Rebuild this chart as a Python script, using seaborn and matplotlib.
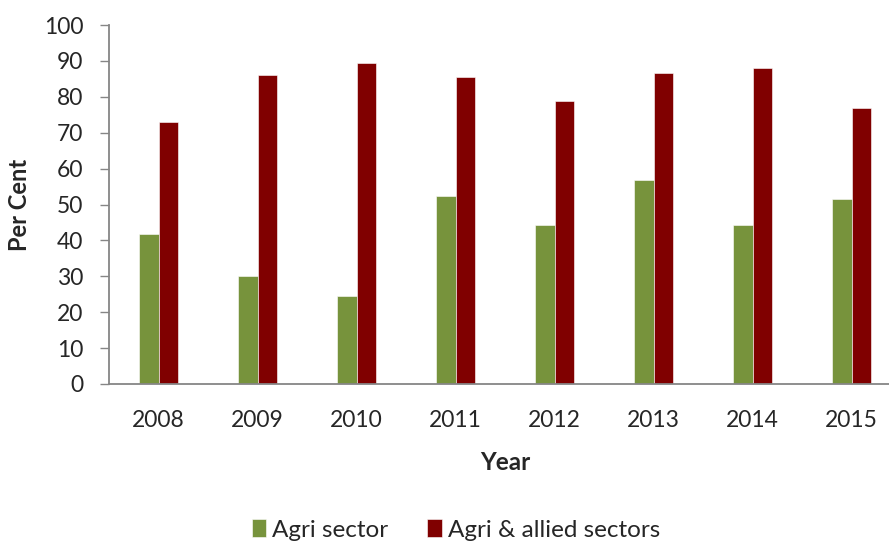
import matplotlib
matplotlib.use("Agg")
import matplotlib.pyplot as plt
import seaborn as sns
import pandas as pd

years = ["2008", "2009", "2010", "2011", "2012", "2013", "2014", "2015"]
agri_sector = [41.7, 30.1, 24.5, 52.3, 44.4, 56.8, 44.2, 51.6]
agri_allied = [73.0, 86.0, 89.4, 85.4, 78.8, 86.5, 88.0, 77.0]
series_names = ["Agri sector", "Agri & allied sectors"]
colors = ["#77933C", "#800000"]
y_ticks = [0, 10, 20, 30, 40, 50, 60, 70, 80, 90, 100]

df = pd.DataFrame({
    "Year": years * 2,
    "Value": agri_sector + agri_allied,
    "Series": [series_names[0]] * len(years) + [series_names[1]] * len(years),
})

sns.set_style("white")
plt.rcParams["font.family"] = ["Lato", "DejaVu Sans"]

fig = plt.figure(figsize=(8.89, 5.44), dpi=100)
W, H = 889, 544
left, right, bottom, top = 109, 901, 544 - 384, 544 - 25
ax = fig.add_axes([left / W, bottom / H, (right - left) / W, (top - bottom) / H])

sns.barplot(data=df, x="Year", y="Value", hue="Series", palette=colors,
            width=0.4, ax=ax, edgecolor="white", linewidth=0.4, saturation=1)

ax.set_ylim(0, 100)
ax.set_xlim(-0.5, 7.5)
ax.set_yticks(y_ticks)
ax.tick_params(axis="y", labelsize=16.5, length=6.5, width=1, color="#868686",
               direction="out", left=True, pad=12)
ax.tick_params(axis="x", labelsize=16.5, length=0, pad=19)
for side in ["top", "right"]:
    ax.spines[side].set_visible(False)
for side in ["left", "bottom"]:
    ax.spines[side].set_color("#868686")
    ax.spines[side].set_linewidth(1.3)

ax.set_ylabel("Per Cent", fontsize=17, fontweight="bold", labelpad=9)
ax.set_xlabel("Year", fontsize=17.5, fontweight="bold", labelpad=14)

handles, labels = ax.get_legend_handles_labels()
ax.get_legend().remove()
fig.legend(handles, labels, loc="center", bbox_to_anchor=(456 / W, 1 - 530 / H),
           ncol=2, frameon=False, fontsize=17.5, handlelength=0.6,
           handleheight=0.7, handletextpad=0.25, columnspacing=1.6)

fig.savefig("out.png", dpi=100)
